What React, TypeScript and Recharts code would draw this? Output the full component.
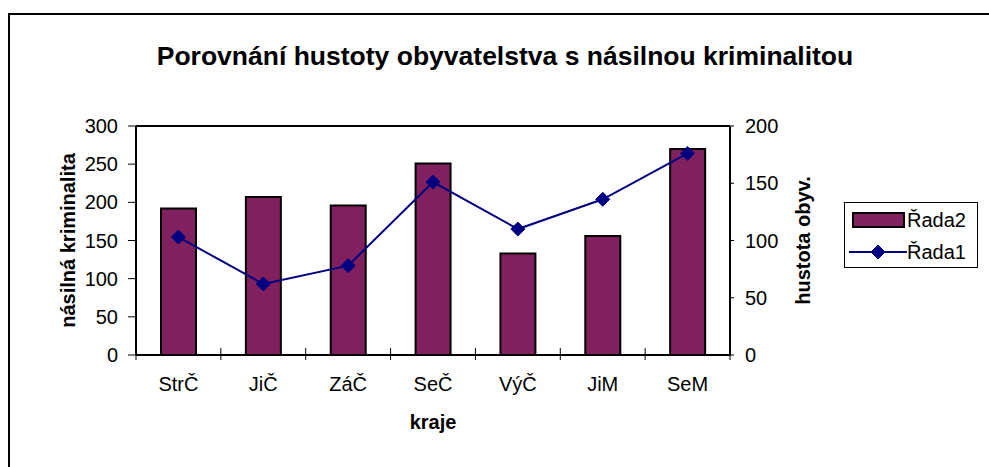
import React from "react";
import { ComposedChart, Bar, Line, XAxis, YAxis, Legend, ReferenceLine } from "recharts";

const categories = ["StrČ", "JiČ", "ZáČ", "SeČ", "VýČ", "JiM", "SeM"];
const rada2 = [192, 207, 196, 251, 133, 156, 270];
const rada1 = [103, 62, 78, 151, 110, 136, 176];
const leftTicks = [0, 50, 100, 150, 200, 250, 300];
const rightTicks = [0, 50, 100, 150, 200];

const TITLE = "Porovnání hustoty obyvatelstva s násilnou kriminalitou";
const X_LABEL = "kraje";
const Y_LEFT_LABEL = "násilná kriminalita";
const Y_RIGHT_LABEL = "hustota obyv.";
const LEGEND_ORDER = ["Řada2", "Řada1"];

const data = categories.map((c, i) => ({ name: c, rada2: rada2[i], rada1: rada1[i] }));

const W = 981;
const H = 459;
const LEFT_W = 128;
const RIGHT_W = 259;
const TOP = 118;
const X_H = 112;
const BW = (W - LEFT_W - RIGHT_W) / categories.length;

const FONT = "'Liberation Sans', Arial, sans-serif";
const BAR_COLOR = "#80205F";
const LINE_COLOR = "#000080";
const TICK_FS = 20;

const XTick = (props: any) => {
  const { x, y, payload, index } = props;
  const last = index === categories.length - 1;
  return (
    <g>
      <line x1={x - BW / 2} x2={x - BW / 2} y1={y - 7} y2={y + 5} stroke="#000" strokeWidth={1} />
      {last && <line x1={x + BW / 2} x2={x + BW / 2} y1={y - 7} y2={y + 5} stroke="#000" strokeWidth={1} />}
      <text x={x} y={y + 36} textAnchor="middle" fontSize={TICK_FS} fontFamily={FONT} fill="#000">
        {payload.value}
      </text>
    </g>
  );
};

const Diamond = (props: any) => {
  const { cx, cy } = props;
  if (cx == null || cy == null) return null;
  const s = 7;
  return (
    <polygon
      points={`${cx},${cy - s} ${cx + s},${cy} ${cx},${cy + s} ${cx - s},${cy}`}
      fill={LINE_COLOR}
      stroke={LINE_COLOR}
      strokeWidth={1}
    />
  );
};

const LegendContent = (props: any) => {
  const payload = [...(props.payload || [])].sort(
    (a: any, b: any) => LEGEND_ORDER.indexOf(a.value) - LEGEND_ORDER.indexOf(b.value)
  );
  return (
    <div style={{ width: 134, height: 66, border: "1px solid #000", boxSizing: "border-box", background: "#fff" }}>
      <svg width={132} height={64}>
        {payload.map((p: any, i: number) => {
          const cy = i === 0 ? 17 : 49;
          const isBar = p.dataKey === "rada2";
          return (
            <g key={i}>
              {isBar ? (
                <rect x={8} y={cy - 7} width={51} height={14} fill={BAR_COLOR} stroke="#000" strokeWidth={2} />
              ) : (
                <g>
                  <line x1={4} x2={62} y1={cy} y2={cy} stroke={LINE_COLOR} strokeWidth={2} />
                  <Diamond cx={33} cy={cy} />
                </g>
              )}
              <text x={62} y={cy + 7} fontSize={TICK_FS} fontFamily={FONT} fill="#000">
                {p.value}
              </text>
            </g>
          );
        })}
      </svg>
    </div>
  );
};

const rotLabel = (text: string, dxFromAxis: number) => (p: any) => {
  const vb = p.viewBox;
  const cx = vb.x + dxFromAxis;
  const cy = vb.y + vb.height / 2;
  return (
    <text
      x={cx}
      y={cy}
      transform={`rotate(-90 ${cx} ${cy})`}
      textAnchor="middle"
      dominantBaseline="central"
      fontSize={20}
      fontWeight="bold"
      fontFamily={FONT}
      fill="#000"
    >
      {text}
    </text>
  );
};

export default function App() {
  return (
    <div style={{ position: "fixed", left: 0, top: 0, width: 989, height: 467, overflow: "hidden", background: "#fff" }}>
      <div
        style={{
          position: "absolute",
          left: 8,
          top: 13,
          width: 1200,
          height: 1000,
          border: "2px solid #000",
          boxSizing: "border-box",
        }}
      />
      <div
        style={{
          position: "absolute",
          left: 8,
          top: 43,
          width: 994,
          textAlign: "center",
          fontFamily: FONT,
          fontSize: 26.5,
          lineHeight: "26px",
          fontWeight: "bold",
          color: "#000",
          whiteSpace: "nowrap",
        }}
      >
        {TITLE}
      </div>
      <div style={{ position: "absolute", left: 8, top: 8 }}>
        <ComposedChart
          width={W}
          height={H}
          data={data}
          margin={{ top: TOP, right: 0, bottom: 0, left: 0 }}
          barSize={35}
        >
          <XAxis
            dataKey="name"
            xAxisId="bottom"
            height={X_H}
            tickLine={false}
            tickSize={0}
            tickMargin={0}
            axisLine={{ stroke: "#000", strokeWidth: 2 }}
            tick={<XTick />}
            interval={0}
            label={{
              content: (p: any) => {
                const vb = p.viewBox;
                return (
                  <text
                    x={vb.x + vb.width / 2}
                    y={vb.y + 74}
                    textAnchor="middle"
                    fontSize={20}
                    fontWeight="bold"
                    fontFamily={FONT}
                    fill="#000"
                  >
                    {X_LABEL}
                  </text>
                );
              },
            }}
          />
          <YAxis
            yAxisId="left"
            width={LEFT_W}
            domain={[0, 300]}
            ticks={leftTicks}
            interval={0}
            tickSize={8}
            tickMargin={10}
            tickLine={{ stroke: "#000", strokeWidth: 1 }}
            axisLine={{ stroke: "#000", strokeWidth: 2 }}
            tick={{ fill: "#000", fontSize: TICK_FS, fontFamily: FONT }}
            label={{ content: rotLabel(Y_LEFT_LABEL, 60) }}
          />
          <YAxis
            yAxisId="right"
            orientation="right"
            width={RIGHT_W}
            domain={[0, 200]}
            ticks={rightTicks}
            interval={0}
            tickSize={4}
            tickMargin={11}
            tickLine={{ stroke: "#000", strokeWidth: 1 }}
            axisLine={{ stroke: "#000", strokeWidth: 2 }}
            tick={{ fill: "#000", fontSize: TICK_FS, fontFamily: FONT, textAnchor: "start" }}
            label={{ content: rotLabel(Y_RIGHT_LABEL, 73) }}
          />
          <ReferenceLine xAxisId="bottom" yAxisId="left" y={300} stroke="#000" strokeWidth={2} />
          <Legend
            layout="vertical"
            align="center"
            verticalAlign="middle"
            content={<LegendContent />}
            wrapperStyle={{ left: 836, top: 194, width: 134, height: 66 }}
          />
          <Bar
            dataKey="rada2"
            name="Řada2"
            xAxisId="bottom"
            yAxisId="left"
            fill={BAR_COLOR}
            stroke="#000"
            strokeWidth={2}
            isAnimationActive={false}
            legendType="rect"
          />
          <Line
            dataKey="rada1"
            name="Řada1"
            xAxisId="bottom"
            yAxisId="right"
            stroke={LINE_COLOR}
            strokeWidth={2}
            dot={<Diamond />}
            activeDot={false}
            isAnimationActive={false}
            legendType="diamond"
          />
        </ComposedChart>
      </div>
    </div>
  );
}
